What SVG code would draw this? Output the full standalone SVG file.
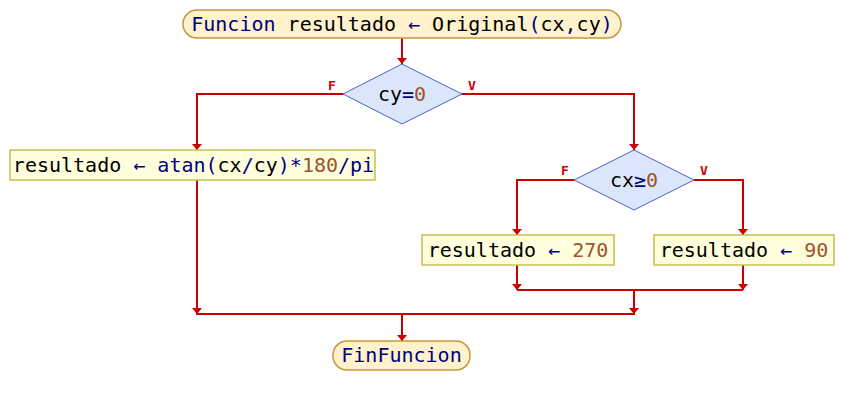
<svg xmlns="http://www.w3.org/2000/svg" width="844" height="405" viewBox="0 0 844 405">
<style>
.term{fill:#fff2cc;stroke:#c8963c;stroke-width:1.5}
.proc{fill:#ffffdd;stroke:#c8c050;stroke-width:1.5}
.dec{fill:#dbe6fa;stroke:#4466cc;stroke-width:1}
.t{font-family:"DejaVu Sans Mono",monospace;font-size:20px;fill:#000000}
.k{fill:#000080}
.n{fill:#a0522d}
.lbl{font-family:"DejaVu Sans Mono",monospace;font-size:13px;font-weight:bold;fill:#cc0000}
.c{fill:none;stroke:#cc0000;stroke-width:2}
</style>
<defs>
<marker id="ah" viewBox="0 0 6 10" refX="6" refY="5" markerWidth="6" markerHeight="10" markerUnits="userSpaceOnUse" orient="auto">
<path d="M0,0 L6,5 L0,10 z" fill="#cc0000"/>
</marker>
</defs>
<rect width="844" height="405" fill="#ffffff"/>
<g id="connectors">
<path class="c" d="M402,38 L402,64" marker-end="url(#ah)"/>
<path class="c" d="M343,94 L197,94 L197,150" marker-end="url(#ah)"/>
<path class="c" d="M462,94 L634,94 L634,150" marker-end="url(#ah)"/>
<path class="c" d="M574,180 L517,180 L517,235" marker-end="url(#ah)"/>
<path class="c" d="M694,180 L743,180 L743,235" marker-end="url(#ah)"/>
<path class="c" d="M517,265 L517,290" marker-end="url(#ah)"/>
<path class="c" d="M743,265 L743,290" marker-end="url(#ah)"/>
<path class="c" d="M517,290 L743,290"/>
<path class="c" d="M634,290 L634,314" marker-end="url(#ah)"/>
<path class="c" d="M197,180 L197,314" marker-end="url(#ah)"/>
<path class="c" d="M196,314 L635,314"/>
<path class="c" d="M402,314 L402,341" marker-end="url(#ah)"/>
<text class="lbl" x="332" y="90" text-anchor="middle">F</text>
<text class="lbl" x="472" y="90" text-anchor="middle">V</text>
<text class="lbl" x="565" y="175" text-anchor="middle">F</text>
<text class="lbl" x="704" y="175" text-anchor="middle">V</text>
</g>
<g id="start">
<rect class="term" x="183" y="10" width="438" height="28" rx="14"/>
<text class="t" x="402" y="31" text-anchor="middle"><tspan class="k">Funcion</tspan> resultado <tspan class="k">←</tspan> Original<tspan class="k">(</tspan>cx<tspan class="k">,</tspan>cy<tspan class="k">)</tspan></text>
</g>
<g id="dec1">
<polygon class="dec" points="402,64 462,94 402,124 343,94"/>
<text class="t" x="402" y="101" text-anchor="middle">cy<tspan class="k">=</tspan><tspan class="n">0</tspan></text>
</g>
<g id="proc1">
<rect class="proc" x="10" y="150" width="365" height="30"/>
<text class="t" x="193.5" y="172" text-anchor="middle">resultado <tspan class="k">←</tspan> <tspan class="k">atan(</tspan>cx<tspan class="k">/</tspan>cy<tspan class="k">)*</tspan><tspan class="n">180</tspan><tspan class="k">/pi</tspan></text>
</g>
<g id="dec2">
<polygon class="dec" points="634,150 694,180 634,210 574,180"/>
<text class="t" x="634" y="187" text-anchor="middle">cx<tspan class="k">≥</tspan><tspan class="n">0</tspan></text>
</g>
<g id="proc270">
<rect class="proc" x="422" y="235" width="192" height="30"/>
<text class="t" x="518" y="257" text-anchor="middle">resultado <tspan class="k">←</tspan> <tspan class="n">270</tspan></text>
</g>
<g id="proc90">
<rect class="proc" x="654" y="235" width="180" height="30"/>
<text class="t" x="744" y="257" text-anchor="middle">resultado <tspan class="k">←</tspan> <tspan class="n">90</tspan></text>
</g>
<g id="end">
<rect class="term" x="333" y="341" width="137" height="29" rx="14"/>
<text class="t k" x="401.5" y="362" text-anchor="middle">FinFuncion</text>
</g>
</svg>
